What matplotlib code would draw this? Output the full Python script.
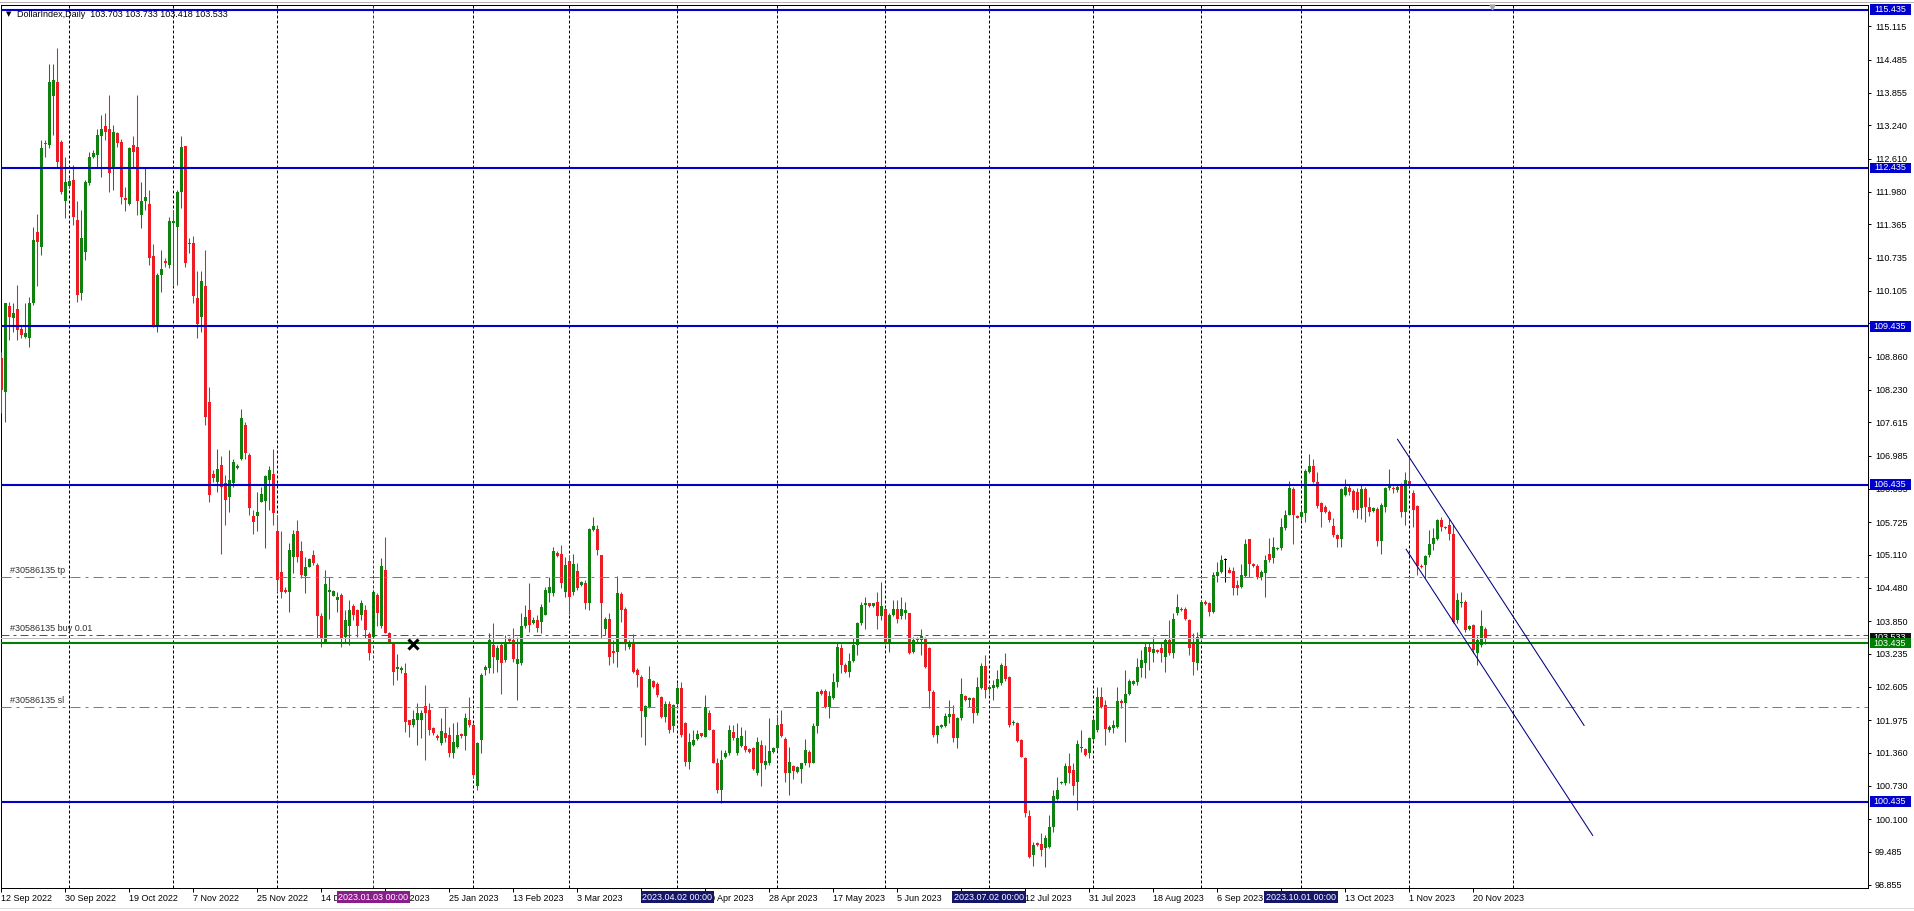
import numpy as np
import pandas as pd
import matplotlib
matplotlib.use('Agg')
import matplotlib.pyplot as plt
from matplotlib.patches import Rectangle
from matplotlib.lines import Line2D

plt.rcParams['font.family'] = ['Liberation Sans', 'DejaVu Sans']

# daily OHLC, one row of ten bars per line (bar 0 = 12 Sep 2022)
opens = [
    108.83, 108.20, 109.82, 109.59, 109.77, 109.38, 109.24, 109.21, 109.87, 111.22,
    110.94, 112.90, 112.87, 113.80, 114.07, 112.93, 111.80, 112.10, 112.21, 111.45,
    110.06, 110.85, 112.14, 112.65, 112.68, 113.03, 113.22, 113.18, 112.46, 113.09,
    112.93, 111.86, 111.76, 112.87, 112.84, 111.54, 111.80, 111.76, 110.77, 109.46,
    110.41, 110.68, 110.60, 111.39, 111.32, 111.98, 112.85, 110.99, 111.02, 109.98,
    109.62, 110.20, 108.01, 106.63, 106.49, 106.81, 106.46, 106.21, 106.47, 106.76,
    106.93, 107.57, 106.99, 105.84, 105.84, 106.11, 106.13, 106.52, 106.64, 105.56,
    104.79, 104.45, 104.41, 105.07, 105.55, 105.17, 104.71, 104.88, 105.10, 104.91,
    103.94, 103.46, 104.41, 104.33, 104.25, 104.35, 103.56, 103.76, 104.13, 104.06,
    103.97, 104.06, 103.61, 103.56, 104.35, 103.75, 104.82, 103.62, 103.43, 102.94,
    102.93, 102.86, 101.97, 101.89, 101.97, 101.98, 102.24, 102.17, 101.82, 101.68,
    101.54, 101.73, 101.69, 101.36, 101.47, 101.71, 101.67, 101.98, 101.88, 100.72,
    101.60, 102.93, 102.96, 103.40, 103.11, 103.40, 103.11, 103.51, 103.49, 103.04,
    103.06, 103.75, 104.06, 103.81, 103.88, 103.84, 103.97, 104.38, 104.38, 105.14,
    105.12, 104.41, 104.99, 104.41, 104.81, 104.54, 104.57, 104.19, 105.58, 105.59,
    105.10, 103.70, 103.90, 103.29, 103.27, 104.37, 104.09, 103.37, 103.43, 102.92,
    102.80, 102.03, 102.23, 102.71, 102.66, 102.42, 102.04, 102.29, 101.87, 102.29,
    102.58, 101.92, 101.19, 101.51, 101.61, 101.73, 101.66, 102.12, 101.79, 101.17,
    100.65, 101.27, 101.35, 101.76, 101.35, 101.49, 101.49, 101.42, 101.44, 100.97,
    101.50, 101.13, 101.16, 101.38, 101.44, 101.90, 101.61, 100.97, 101.10, 101.00,
    101.06, 101.16, 101.38, 101.17, 101.87, 102.53, 102.53, 102.23, 102.39, 102.70,
    103.35, 103.02, 102.88, 103.10, 103.40, 103.81, 104.16, 104.19, 104.13, 104.22,
    103.94, 104.09, 103.43, 103.97, 104.09, 103.94, 104.00, 104.00, 103.27, 103.53,
    103.49, 103.51, 103.34, 102.51, 101.70, 101.84, 101.87, 102.04, 102.09, 101.63,
    102.01, 102.43, 102.36, 102.39, 102.12, 102.58, 103.00, 102.56, 102.58, 102.60,
    102.67, 103.00, 102.79, 101.92, 101.93, 101.60, 101.25, 100.16, 99.42, 99.64,
    99.63, 99.55, 99.58, 99.96, 100.49, 100.78, 100.78, 101.11, 101.03, 100.81,
    101.44, 101.42, 101.35, 101.61, 101.79, 102.41, 102.26, 101.79, 101.82, 101.85,
    102.33, 102.30, 102.47, 102.66, 102.70, 102.96, 103.05, 103.37, 103.25, 103.30,
    103.34, 103.18, 103.49, 103.24, 104.00, 104.09, 104.09, 103.87, 103.43, 103.05,
    103.54, 104.22, 104.19, 104.03, 104.70, 104.79, 105.01, 104.82, 104.81, 104.54,
    104.50, 104.70, 105.40, 104.93, 104.90, 104.69, 104.76, 105.13, 105.04, 105.22,
    105.23, 105.61, 105.86, 106.35, 105.84, 105.83, 105.90, 106.68, 106.78, 106.49,
    106.08, 106.02, 105.92, 105.65, 105.48, 105.40, 106.24, 106.38, 106.32, 106.30,
    105.99, 106.35, 106.01, 105.93, 105.97, 105.36, 106.02, 106.37, 106.38, 106.33,
    106.43, 105.92, 106.50, 106.27, 106.03, 104.90, 104.91, 105.10, 105.32, 105.40,
    105.77, 105.63, 105.67, 105.50, 103.87, 104.20, 104.22, 103.71, 103.78, 103.24,
    103.40, 103.703,
]
highs = [
    108.95, 109.87, 109.90, 109.87, 110.22, 109.46, 109.87, 109.99, 111.32, 111.57,
    112.96, 112.96, 114.41, 114.41, 114.70, 112.96, 112.65, 112.24, 112.49, 111.80,
    111.64, 112.20, 112.74, 112.77, 113.18, 113.44, 113.47, 113.82, 113.25, 113.12,
    112.99, 112.08, 112.84, 113.03, 113.82, 112.17, 112.43, 112.02, 110.99, 110.44,
    110.88, 110.72, 111.51, 111.64, 112.02, 113.03, 112.85, 111.10, 111.15, 110.49,
    110.49, 110.88, 108.29, 106.71, 107.12, 106.97, 106.62, 107.10, 106.92, 106.83,
    107.86, 107.63, 107.03, 105.96, 106.30, 106.40, 106.62, 106.79, 107.12, 105.86,
    105.55, 104.50, 105.33, 105.58, 105.77, 105.36, 105.07, 105.04, 105.20, 104.95,
    104.00, 104.82, 104.69, 104.44, 104.41, 104.38, 104.06, 104.25, 104.18, 104.09,
    104.25, 104.16, 103.65, 104.44, 104.38, 105.04, 105.45, 103.65, 103.46, 103.23,
    103.00, 103.06, 101.98, 102.17, 102.30, 102.17, 102.64, 102.30, 101.85, 101.71,
    102.01, 102.20, 101.85, 101.92, 101.95, 101.73, 102.11, 102.42, 101.92, 101.57,
    102.86, 103.02, 103.62, 103.81, 103.40, 103.43, 103.59, 103.56, 103.72, 103.56,
    104.00, 104.16, 104.57, 103.92, 103.97, 104.18, 104.50, 104.69, 105.25, 105.17,
    105.29, 105.07, 105.10, 105.12, 104.96, 104.61, 104.63, 105.61, 105.83, 105.67,
    105.10, 103.92, 104.01, 103.49, 104.71, 104.41, 104.12, 103.49, 103.61, 102.96,
    102.83, 102.26, 103.00, 102.74, 102.69, 102.43, 102.33, 102.33, 102.29, 102.67,
    102.70, 101.95, 101.73, 101.79, 101.79, 101.74, 102.45, 102.16, 101.80, 101.25,
    101.41, 101.41, 101.88, 101.88, 101.92, 101.85, 101.79, 101.44, 101.47, 101.66,
    101.60, 101.50, 102.01, 101.47, 102.07, 102.17, 101.66, 101.47, 101.12, 101.10,
    101.17, 101.61, 101.41, 101.92, 102.53, 102.56, 102.56, 102.52, 102.86, 103.43,
    103.42, 103.05, 103.24, 103.53, 103.84, 104.22, 104.31, 104.20, 104.20, 104.41,
    104.60, 104.12, 104.00, 104.25, 104.25, 104.31, 104.22, 104.01, 103.56, 103.56,
    103.71, 103.56, 103.37, 102.55, 101.88, 101.90, 102.12, 102.36, 102.26, 102.04,
    102.77, 102.45, 102.42, 102.42, 102.80, 103.05, 103.21, 102.64, 102.74, 102.93,
    103.05, 103.24, 102.81, 101.98, 101.95, 101.61, 101.28, 100.27, 99.67, 99.67,
    99.83, 99.80, 100.18, 100.65, 100.89, 100.83, 101.16, 101.35, 101.16, 101.60,
    101.79, 101.44, 101.66, 102.01, 102.61, 102.61, 102.36, 101.88, 101.98, 102.61,
    102.37, 102.92, 102.75, 102.74, 103.15, 103.30, 103.46, 103.46, 103.56, 103.32,
    103.43, 103.53, 103.87, 104.00, 104.36, 104.11, 104.12, 103.90, 103.62, 103.65,
    104.26, 104.25, 104.22, 104.79, 104.98, 105.10, 105.04, 104.88, 104.88, 104.63,
    104.94, 105.40, 105.40, 104.95, 104.94, 104.82, 105.10, 105.42, 105.44, 105.26,
    105.80, 105.95, 106.51, 106.40, 105.86, 105.99, 106.74, 107.02, 106.93, 106.68,
    106.11, 106.05, 105.96, 105.80, 105.51, 106.37, 106.54, 106.43, 106.35, 106.37,
    106.43, 106.40, 106.21, 106.01, 106.01, 106.08, 106.40, 106.74, 106.41, 106.43,
    106.46, 106.68, 106.97, 106.33, 106.05, 104.94, 105.10, 105.58, 105.61, 105.78,
    105.83, 105.65, 105.78, 105.69, 104.38, 104.41, 104.25, 103.78, 103.80, 103.57,
    104.07, 103.733,
]
lows = [
    107.79, 107.63, 109.18, 109.33, 109.18, 109.21, 109.21, 109.05, 109.84, 110.19,
    110.79, 112.65, 112.81, 113.06, 112.46, 111.95, 111.48, 112.05, 111.35, 109.90,
    109.93, 110.69, 112.11, 112.62, 112.46, 112.27, 112.96, 111.98, 112.02, 112.84,
    111.76, 111.61, 111.73, 112.46, 111.54, 111.29, 111.64, 110.60, 109.43, 109.33,
    110.09, 110.56, 110.53, 110.22, 110.22, 111.67, 110.56, 110.82, 109.88, 109.21,
    109.33, 107.57, 106.11, 106.49, 106.30, 105.13, 105.67, 105.92, 106.40, 106.73,
    106.90, 106.92, 105.86, 105.51, 105.56, 106.11, 105.23, 105.96, 105.67, 104.41,
    104.28, 104.38, 104.03, 104.76, 104.98, 104.66, 104.38, 104.87, 104.91, 103.53,
    103.37, 103.43, 103.90, 104.32, 104.03, 103.37, 103.46, 103.40, 103.87, 103.56,
    103.87, 103.53, 103.12, 103.53, 103.75, 103.72, 103.62, 103.43, 102.64, 102.74,
    102.86, 101.76, 101.66, 101.85, 101.51, 101.63, 101.22, 101.69, 101.69, 101.60,
    101.51, 101.57, 101.28, 101.25, 101.44, 101.63, 101.41, 101.85, 100.88, 100.65,
    101.35, 102.83, 102.86, 102.86, 102.89, 102.48, 103.08, 103.43, 103.08, 102.36,
    103.02, 103.72, 103.65, 103.80, 103.65, 103.63, 103.97, 104.22, 104.33, 105.07,
    104.47, 104.31, 103.99, 104.35, 104.44, 104.52, 104.09, 104.06, 105.55, 105.10,
    103.53, 103.59, 103.02, 103.05, 102.99, 103.84, 103.30, 103.32, 102.87, 102.61,
    101.66, 101.50, 102.20, 102.58, 102.42, 102.01, 101.95, 101.73, 101.76, 102.26,
    101.66, 101.10, 101.06, 101.49, 101.60, 101.66, 101.66, 101.79, 101.16, 100.60,
    100.40, 101.25, 101.32, 101.60, 101.32, 101.47, 101.38, 101.35, 101.03, 100.94,
    100.72, 101.06, 101.13, 101.36, 101.41, 101.66, 100.81, 100.56, 100.87, 100.97,
    100.79, 101.13, 101.08, 101.16, 101.73, 102.45, 102.20, 102.01, 102.37, 102.61,
    102.86, 102.86, 102.80, 103.08, 103.21, 103.78, 103.71, 104.12, 104.12, 103.71,
    103.87, 103.42, 103.27, 103.95, 103.82, 103.90, 103.90, 103.23, 103.24, 103.46,
    103.21, 102.97, 102.20, 101.66, 101.55, 101.82, 101.85, 101.92, 101.57, 101.44,
    101.98, 102.33, 102.23, 101.92, 102.07, 102.56, 102.39, 102.48, 102.36, 102.58,
    102.64, 102.72, 101.85, 101.88, 101.57, 101.27, 100.15, 99.36, 99.21, 99.59,
    99.40, 99.19, 99.55, 99.86, 100.46, 100.76, 100.75, 100.78, 100.56, 100.27,
    101.38, 101.30, 101.25, 101.60, 101.76, 102.20, 101.50, 101.76, 101.73, 101.82,
    102.20, 101.57, 102.45, 102.64, 102.64, 102.80, 102.77, 102.93, 103.08, 103.24,
    103.08, 102.89, 103.21, 103.15, 103.97, 104.04, 103.87, 103.21, 102.83, 102.92,
    103.52, 104.16, 103.94, 104.00, 104.60, 104.76, 104.60, 104.76, 104.35, 104.35,
    104.47, 104.69, 104.69, 104.88, 104.64, 104.63, 104.31, 104.98, 104.95, 105.20,
    105.20, 105.58, 105.86, 105.31, 105.80, 105.77, 105.72, 106.65, 106.46, 105.99,
    105.64, 105.89, 105.73, 105.45, 105.26, 105.26, 106.22, 106.24, 105.92, 105.80,
    105.78, 105.73, 105.84, 105.91, 105.27, 105.13, 105.92, 106.33, 106.27, 106.30,
    105.83, 105.67, 106.40, 105.63, 104.72, 104.85, 104.66, 105.07, 105.20, 105.39,
    105.56, 105.60, 105.39, 103.81, 103.81, 104.12, 103.65, 103.69, 103.24, 103.02,
    103.37, 103.418,
]
closes = [
    108.23, 109.87, 109.62, 109.68, 109.37, 109.27, 109.30, 109.88, 111.07, 111.04,
    112.81, 112.88, 114.07, 114.10, 112.55, 111.98, 112.16, 112.19, 111.51, 110.03,
    111.10, 112.17, 112.65, 112.71, 113.06, 113.18, 113.12, 112.33, 113.12, 112.90,
    111.89, 111.83, 112.81, 112.74, 111.80, 111.80, 111.89, 110.72, 109.46, 110.41,
    110.52, 110.63, 111.42, 111.43, 111.98, 112.84, 110.63, 111.02, 110.01, 109.48,
    110.29, 107.72, 106.24, 106.57, 106.73, 106.40, 106.15, 106.53, 106.87, 106.79,
    107.69, 107.03, 105.99, 105.73, 105.92, 106.26, 106.60, 106.72, 105.89, 104.63,
    104.41, 104.40, 105.20, 105.51, 105.07, 104.73, 104.88, 105.02, 104.95, 103.94,
    103.53, 104.55, 104.44, 104.43, 104.31, 103.53, 103.87, 104.06, 103.97, 103.76,
    104.20, 103.68, 103.24, 104.41, 104.00, 104.90, 103.63, 103.46, 102.89, 102.99,
    102.97, 101.95, 101.89, 101.99, 102.11, 102.11, 102.11, 101.79, 101.73, 101.63,
    101.77, 101.63, 101.35, 101.57, 101.69, 101.67, 102.01, 101.89, 100.94, 101.54,
    102.83, 102.98, 103.49, 103.18, 103.34, 103.06, 103.43, 103.48, 103.13, 103.13,
    103.75, 103.92, 103.78, 103.88, 103.73, 104.12, 104.44, 104.50, 105.17, 105.09,
    104.57, 104.91, 104.31, 104.93, 104.47, 104.60, 104.19, 105.59, 105.65, 105.20,
    104.19, 103.90, 103.18, 103.24, 104.38, 104.06, 103.46, 103.46, 102.89, 102.83,
    102.14, 102.24, 102.75, 102.61, 102.45, 102.04, 102.29, 101.79, 102.26, 102.58,
    101.70, 101.19, 101.57, 101.60, 101.71, 101.68, 102.23, 101.79, 101.17, 100.65,
    101.23, 101.35, 101.78, 101.63, 101.63, 101.68, 101.41, 101.38, 101.06, 101.57,
    101.16, 101.21, 101.40, 101.44, 101.88, 101.68, 100.97, 101.19, 101.02, 101.09,
    101.16, 101.41, 101.17, 101.87, 102.50, 102.48, 102.23, 102.43, 102.70, 103.37,
    103.02, 102.89, 103.10, 103.40, 103.81, 104.16, 104.19, 104.13, 104.19, 103.94,
    104.13, 103.43, 103.97, 104.09, 103.90, 104.09, 104.06, 103.24, 103.49, 103.49,
    103.57, 102.99, 102.53, 101.70, 101.86, 101.88, 102.05, 102.09, 101.63, 102.01,
    102.48, 102.36, 102.39, 102.12, 102.61, 103.00, 102.55, 102.60, 102.64, 102.75,
    103.02, 102.75, 101.88, 101.95, 101.59, 101.28, 100.22, 99.39, 99.61, 99.61,
    99.52, 99.74, 99.96, 100.53, 100.65, 100.81, 101.11, 100.97, 100.72, 101.52,
    101.47, 101.32, 101.63, 101.98, 102.42, 102.23, 101.80, 101.85, 101.88, 102.33,
    102.30, 102.47, 102.71, 102.72, 102.99, 103.12, 103.37, 103.27, 103.32, 103.26,
    103.24, 103.49, 103.24, 103.90, 104.12, 104.06, 103.90, 103.34, 103.07, 103.56,
    104.22, 104.18, 104.03, 104.72, 104.79, 105.01, 105.01, 104.77, 104.47, 104.47,
    104.72, 105.32, 104.94, 104.90, 104.69, 104.79, 105.01, 105.01, 105.26, 105.24,
    105.63, 105.86, 106.37, 105.86, 105.81, 105.92, 106.70, 106.78, 106.49, 106.03,
    105.92, 105.92, 105.77, 105.48, 105.40, 106.35, 106.40, 106.30, 105.96, 105.96,
    106.35, 106.01, 105.92, 105.99, 105.36, 106.05, 106.37, 106.43, 106.35, 106.40,
    105.92, 106.52, 106.45, 105.96, 104.89, 104.88, 105.08, 105.32, 105.42, 105.77,
    105.64, 105.61, 105.51, 103.84, 104.25, 104.22, 103.68, 103.76, 103.30, 103.49,
    103.75, 103.533,
]

# horizontal objects
blue_levels = [115.435, 112.435, 109.435, 106.435, 100.435]
green_level = 103.435
bid_price = 103.533
order_tp, order_open, order_sl = 104.68, 103.58, 102.22
order_labels = ["#30586135 tp", "#30586135 buy 0.01", "#30586135 sl"]

# price axis ticks as MetaTrader printed them
y_ticks = [115.115, 114.485, 113.855, 113.240, 112.610, 111.980, 111.365,
           110.735, 110.105, 109.490, 108.860, 108.230, 107.615, 106.985,
           106.355, 105.725, 105.110, 104.480, 103.850, 103.235, 102.605,
           101.975, 101.360, 100.730, 100.100, 99.485, 98.855]

# trend channel (bar index, price)
channel_upper = [(349.1, 107.295), (395.75, 101.876)]
channel_lower = [(351.25, 105.212), (397.9, 99.793)]

# vertical line objects with their axis tags
vline_jan = ("2023.01.03 00:00", 93)
quarter_tags = [("2023.04.02 00:00", 169), ("2023.07.02 00:00", 247),
                ("2023.10.01 00:00", 325)]
cross_mark = (102.9, 103.42)

# bar calendar: Sunday-Friday sessions, closed over Christmas / New Year
holidays = ['2022-12-25', '2022-12-26', '2023-01-01', '2023-01-02']
dates = pd.bdate_range('2022-09-12', '2023-12-08', freq='C',
                       weekmask='Sun Mon Tue Wed Thu Fri', holidays=holidays)

n = len(closes)
x = np.arange(n)
o = np.array(opens)
c = np.array(closes)
h = np.array(highs)
l = np.array(lows)

GREEN = '#108010'
RED = '#ec1c24'
BLUE = '#0000c8'
TRADE = '#e4572e'
colors = [GREEN if cc > oo else (RED if cc < oo else 'black') for oo, cc in zip(o, c)]

W, H = 1915, 911
fig = plt.figure(figsize=(W / 100, H / 100), dpi=100)
ax = fig.add_axes([0.5 / W, 23 / H, 1867.5 / W, 883 / H])
px = 52.8  # pixels per price unit
ax.set_xlim(-0.25, 466.75)
ax.set_ylim(115.435 - 878.5 / px, 115.435 + 4.5 / px)

# month separators
for k in range(1, len(dates)):
    if dates[k].month != dates[k - 1].month and k != vline_jan[1]:
        ax.axvline(k, color='black', lw=0.72, dashes=(3, 2), zorder=1)

# candles
ax.vlines(x, l, h, colors=colors, lw=0.75, zorder=3)
body = np.maximum(np.abs(c - o), 1.0 / px)
ax.bar(x, body, bottom=np.minimum(o, c), width=0.75, color=colors,
       linewidth=0, zorder=4)

# horizontal levels
for lv in blue_levels:
    ax.axhline(lv, color=BLUE, lw=1.5, zorder=6)
ax.axhline(bid_price, color='#c0c0c0', lw=0.72, zorder=5)
ax.axhline(green_level, color='#008000', lw=1.5, zorder=6)
ax.axhline(order_open, color='#2e6b2e', lw=0.72, dashes=(8, 4, 3, 4), zorder=5)
for lv in (order_tp, order_sl):
    ax.axhline(lv, color=TRADE, lw=0.72, dashes=(10, 5, 3, 5), zorder=5)

yax = ax.get_yaxis_transform()
for lab, lv in zip(order_labels, (order_tp, order_open, order_sl)):
    ax.text(10 / 1867.5, lv + 2.5 / px, lab, transform=yax, fontsize=6.5,
            color='#303030', ha='left', va='bottom', zorder=7)

# trend channel
for seg in (channel_upper, channel_lower):
    xs, ys = zip(*seg)
    ax.plot(xs, ys, color='#000080', lw=0.75, zorder=6, clip_on=False)

# Jan vertical line and closed-trade cross
ax.axvline(vline_jan[1], color='#5a145a', lw=0.72, dashes=(3, 2), zorder=5)
ax.plot(*cross_mark, marker='x', ms=6.5, mew=2.2, color='black', zorder=8)

# header
ax.text(8 / 1867.5, 1 - 9 / 883, '\u25bc', transform=ax.transAxes, fontsize=5,
        ha='center', va='center', family=['DejaVu Sans'])
ax.text(17 / 1867.5, 1 - 9 / 883,
        f"DollarIndex,Daily  {opens[-1]:.3f} {highs[-1]:.3f} {lows[-1]:.3f} {closes[-1]:.3f}",
        transform=ax.transAxes, fontsize=6.5, ha='left', va='center')

# price axis
ax.yaxis.tick_right()
ax.set_yticks(y_ticks)
ax.set_yticklabels([f"{v:.3f}" for v in y_ticks])
ax.tick_params(axis='y', direction='out', length=2.5, width=0.72, pad=2.5,
               labelsize=6.5, right=True, left=False)

bx0 = 1.5 / 1867.5 + 1.0
bw = 41 / 1867.5
bh = 10.5 / px


def price_box(price, face, z):
    ax.add_patch(Rectangle((bx0, price - bh / 2), bw, bh, transform=yax,
                           facecolor=face, edgecolor='none', clip_on=False, zorder=z))
    ax.text(bx0 + bw / 2, price, f"{price:.3f}", transform=yax, fontsize=6.5,
            color='white', ha='center', va='center', clip_on=False, zorder=z + 0.1)


for lv in blue_levels:
    price_box(lv, '#0000cd', 10)
price_box(bid_price, '#101010', 10)
price_box(green_level, '#008000', 11)

# time axis
tick_k = list(range(0, n, 16))
ax.set_xticks(tick_k)
ax.set_xticklabels([f"{dates[k].day} {dates[k].strftime('%b %Y')}" for k in tick_k])
for lab in ax.get_xticklabels():
    lab.set_ha('left')
ax.tick_params(axis='x', direction='out', length=3, width=0.72, pad=1.5,
               labelsize=6.5)

xax = ax.get_xaxis_transform()
ax.text(vline_jan[1], -0.0102, vline_jan[0], transform=xax, fontsize=6.5,
        color='white', ha='center', va='center', clip_on=False, zorder=12,
        bbox=dict(boxstyle='square,pad=0.2', fc='#8b1c8b', ec='none'))
for tag, k in quarter_tags:
    ax.text(k, -0.0102, tag, transform=xax, fontsize=6.5, color='white',
            ha='center', va='center', clip_on=False, zorder=12,
            bbox=dict(boxstyle='square,pad=0.2', fc='#15156a', ec='none'))

for sp in ax.spines.values():
    sp.set_linewidth(0.72)
    sp.set_color('black')

# chart shift marker and window edges
ax.plot(372.75, 115.435 + 2.5 / px, marker='v', ms=3.5, color='#a8a8a8',
        zorder=9, clip_on=False)
fig.add_artist(Line2D([0, 1], [1 - 1.7 / H] * 2, color='#b4b4b4', lw=0.72))
fig.add_artist(Line2D([0, 1], [3 / H] * 2, color='#dcdcdc', lw=0.72))

fig.savefig('out.png', dpi=100)
